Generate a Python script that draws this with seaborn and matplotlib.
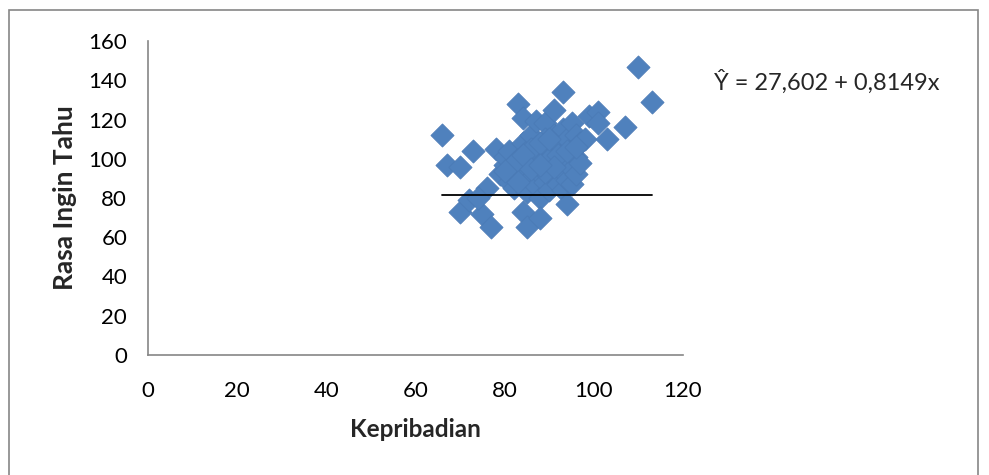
import matplotlib
matplotlib.use("Agg")
import matplotlib.pyplot as plt
import seaborn as sns
import pandas as pd
from matplotlib.patches import Rectangle

# Kepribadian (x) vs Rasa Ingin Tahu (y)
kepribadian = [66, 67, 70, 73, 70, 72, 75, 76, 77, 74, 78, 79, 80, 80, 81, 81, 82, 82,
               83, 83, 83, 84, 84, 84, 84, 84, 85, 85, 85, 85, 86, 86, 86, 87, 87, 87,
               87, 88, 88, 88, 88, 89, 89, 89, 89, 90, 90, 90, 91, 91, 91, 91, 92, 92,
               92, 93, 93, 93, 93, 93, 94, 94, 94, 94, 95, 95, 95, 95, 96, 96, 96, 97,
               97, 98, 99, 101, 101, 103, 107, 110, 113, 82, 86, 90, 92, 88, 84, 80,
               83, 89, 91, 94, 96, 86, 88, 90]
rasa_ingin_tahu = [112, 97, 96, 104, 73, 79, 72, 85, 65, 80, 105, 92, 97, 101, 88, 104, 95, 85,
                   128, 100, 92, 121, 108, 97, 88, 73, 104, 94, 83, 65, 112, 100, 90, 119, 106, 96,
                   86, 102, 92, 80, 70, 118, 110, 98, 88, 105, 95, 84, 125, 112, 100, 91, 108, 97,
                   87, 134, 115, 103, 93, 84, 110, 99, 89, 77, 118, 105, 95, 87, 112, 101, 92, 108,
                   98, 110, 122, 124, 118, 110, 116, 147, 129, 98, 105, 100, 102, 108, 102, 94,
                   88, 93, 96, 104, 106, 95, 97, 110]

# horizontal line drawn across the points
line_x = [66, 113]
line_y = [81.5, 81.5]

equation = "Ŷ = 27,602 + 0,8149x"

df = pd.DataFrame({"Kepribadian": kepribadian, "Rasa Ingin Tahu": rasa_ingin_tahu})

sns.set_style("white")
plt.rcParams['font.family'] = ['Lato', 'DejaVu Sans']

fig = plt.figure(figsize=(9.89, 4.75), dpi=100)
ax = fig.add_axes([148 / 989, 1 - 355 / 475, (683 - 148) / 989, (355 - 41) / 475])

sns.scatterplot(data=df, x="Kepribadian", y="Rasa Ingin Tahu", marker="D", s=140,
                color="#4F81BD", edgecolor="#4A7AB5", linewidth=0.5, ax=ax, zorder=3)
ax.plot(line_x, line_y, color="black", lw=1.3, zorder=4)

ax.set_xlim(0, 120)
ax.set_ylim(0, 160)
ax.set_xticks(range(0, 121, 20))
ax.set_yticks(range(0, 161, 20))

for side in ["top", "right"]:
    ax.spines[side].set_visible(False)
for side in ["left", "bottom"]:
    ax.spines[side].set_color("#868686")
    ax.spines[side].set_linewidth(1.2)

ax.tick_params(axis="both", direction="out", length=7, width=1.2, color="#868686",
               labelsize=16, labelcolor="black")
ax.tick_params(axis="x", pad=12)
ax.tick_params(axis="y", pad=8)

ax.set_xlabel("Kepribadian", fontsize=17.5, fontweight="bold", labelpad=12)
ax.set_ylabel("Rasa Ingin Tahu", fontsize=19, fontweight="bold", labelpad=8)

fig.text(714 / 989, 1 - 82 / 475, equation, fontsize=17, va="center", ha="left")

# outer chart border
fig.patches.append(Rectangle((9 / 989, -0.1), 969 / 989, 1.1 - 10 / 475,
                             transform=fig.transFigure, fill=False,
                             edgecolor="#868686", lw=1.2))

fig.savefig("out.png", dpi=100)
